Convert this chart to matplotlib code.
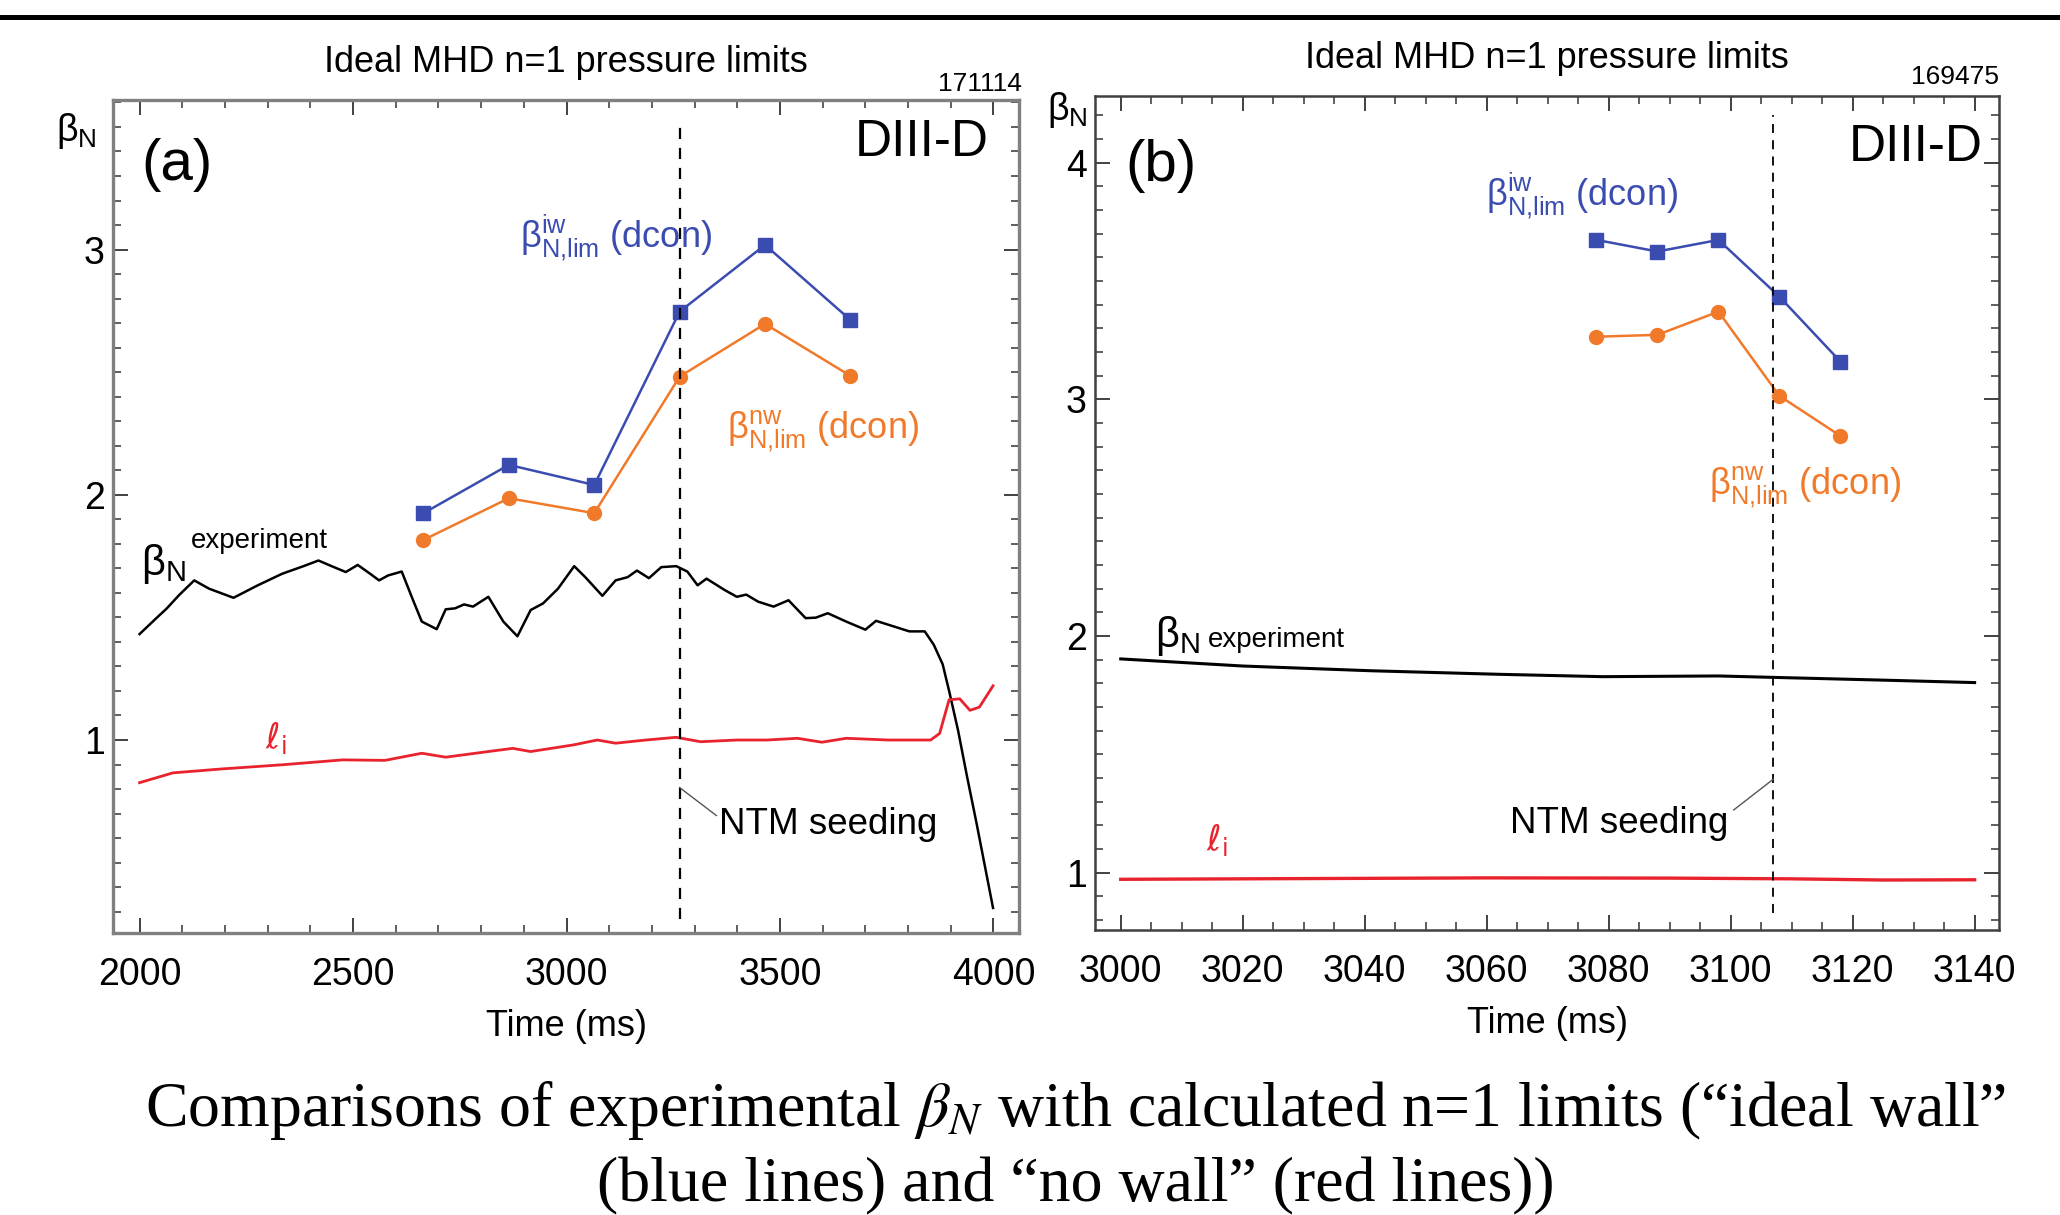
import matplotlib
matplotlib.use("Agg")
import matplotlib.pyplot as plt
from matplotlib import font_manager as fm
from matplotlib.lines import Line2D
from matplotlib.ticker import MultipleLocator

# ---------------- data ----------------
# Panel (a): shot 171114
a_lim_t = [2665, 2865, 3065, 3265, 3465, 3665]
a_iw = [1.925, 2.122, 2.040, 2.747, 3.019, 2.713]
a_nw = [1.816, 1.986, 1.925, 2.482, 2.697, 2.485]

a_exp_t = [2000, 2043, 2064, 2092, 2128, 2163, 2220, 2277, 2334, 2384, 2419, 2447,
           2483, 2511, 2540, 2561, 2582, 2614, 2639, 2661, 2696, 2717, 2739, 2760,
           2781, 2817, 2852, 2885, 2916, 2945, 2980, 3018, 3044, 3084, 3115, 3143,
           3165, 3193, 3222, 3257, 3283, 3307, 3328, 3371, 3399, 3421, 3449, 3485,
           3520, 3560, 3584, 3612, 3655, 3700, 3725, 3754, 3803, 3839, 3860, 3881,
           3896, 3917, 3938, 3960, 3981, 3999]
a_exp = [1.432, 1.503, 1.537, 1.590, 1.651, 1.617, 1.580, 1.631, 1.678, 1.709, 1.732, 1.711,
         1.685, 1.714, 1.678, 1.651, 1.671, 1.687, 1.577, 1.483, 1.452, 1.533, 1.537, 1.553,
         1.544, 1.584, 1.483, 1.423, 1.530, 1.557, 1.617, 1.709, 1.664, 1.588, 1.651, 1.664,
         1.691, 1.660, 1.705, 1.709, 1.687, 1.631, 1.658, 1.611, 1.584, 1.593, 1.564, 1.544,
         1.570, 1.497, 1.499, 1.517, 1.483, 1.450, 1.486, 1.470, 1.443, 1.443, 1.389, 1.309,
         1.201, 1.040, 0.852, 0.664, 0.476, 0.315]

a_li_t = [2000, 2078, 2192, 2334, 2476, 2575, 2661, 2717, 2817, 2874, 2916, 3016, 3072,
          3115, 3186, 3257, 3314, 3399, 3470, 3541, 3598, 3655, 3754, 3853, 3874, 3896,
          3921, 3945, 3967, 3999]
a_li = [0.826, 0.866, 0.882, 0.899, 0.919, 0.917, 0.946, 0.930, 0.953, 0.966, 0.953, 0.980,
        1.000, 0.987, 1.000, 1.011, 0.993, 1.000, 1.000, 1.007, 0.991, 1.007, 1.000, 1.000,
        1.027, 1.164, 1.168, 1.121, 1.134, 1.221]
a_ntm_t = 3265

# Panel (b): shot 169475
b_lim_t = [3078, 3088, 3098, 3108, 3118]
b_iw = [3.673, 3.624, 3.673, 3.433, 3.159]
b_nw = [3.264, 3.272, 3.370, 3.014, 2.845]

b_exp_t = [3000, 3020, 3041, 3062, 3079, 3098, 3107, 3124, 3140]
b_exp = [1.903, 1.873, 1.853, 1.838, 1.828, 1.831, 1.825, 1.814, 1.803]

b_li_t = [3000, 3030, 3060, 3090, 3110, 3125, 3140]
b_li = [0.972, 0.975, 0.978, 0.977, 0.974, 0.969, 0.970]
b_ntm_t = 3107

a_xticks = [2000, 2500, 3000, 3500, 4000]
a_yticks = [1, 2, 3]
b_xticks = [3000, 3020, 3040, 3060, 3080, 3100, 3120, 3140]
b_yticks = [1, 2, 3, 4]

# ---------------- style ----------------
names = {f.name for f in fm.fontManager.ttflist}
NARROW = 'Liberation Sans Narrow' if 'Liberation Sans Narrow' in names else 'Liberation Sans'
SANS = ['Liberation Sans', 'DejaVu Sans']
plt.rcParams['font.family'] = SANS

BLUE = '#3b4cb0'
ORANGE = '#f07a2a'
RED = '#e8232d'
FRAME = '#808080'

fig = plt.figure(figsize=(20.6, 12.15), dpi=100)

ax_a = fig.add_axes([0.0549, 0.2321, 0.4398, 0.6856])
ax_b = fig.add_axes([0.5316, 0.2346, 0.4388, 0.6864])


def style_axes(ax, xlim, ylim, xticks, yticks, xminor, frame_col, frame_lw):
    ax.set_xlim(*xlim)
    ax.set_ylim(*ylim)
    ax.set_xticks(xticks)
    ax.set_yticks(yticks)
    ax.xaxis.set_minor_locator(MultipleLocator(xminor))
    ax.yaxis.set_minor_locator(MultipleLocator(0.1))
    ax.tick_params(which='both', direction='in', top=True, right=True,
                   colors='#333333', labelcolor='black')
    ax.tick_params(which='major', length=11, width=1.3)
    ax.tick_params(which='minor', length=5.5, width=1.1)
    ax.tick_params(axis='x', which='major', pad=17)
    ax.tick_params(axis='y', which='major', pad=6)
    for lab in ax.get_xticklabels() + ax.get_yticklabels():
        lab.set_fontfamily(NARROW)
        lab.set_fontsize(27)
    for s in ax.spines.values():
        s.set_color(frame_col)
        s.set_linewidth(frame_lw)


style_axes(ax_a, (1938, 4060), (0.213, 3.61), a_xticks, a_yticks, 100, FRAME, 2.4)
style_axes(ax_b, (2995.8, 3144.0), (0.758, 4.281), b_xticks, b_yticks, 5, '#404040', 1.8)

IW_LABEL = r'$\mathregular{β^{iw}_{N{,}lim}}$ (dcon)'
NW_LABEL = r'$\mathregular{β^{nw}_{N{,}lim}}$ (dcon)'
LI_LABEL = r'$\mathregular{ℓ_i}$'

# ---------------- panel (a) ----------------
ax = ax_a
ax.plot(a_exp_t, a_exp, color='black', lw=1.8)
ax.plot(a_li_t, a_li, color=RED, lw=2.0)
ax.plot(a_lim_t, a_iw, color=BLUE, lw=1.8, marker='s', ms=10)
ax.plot(a_lim_t, a_nw, color=ORANGE, lw=1.8, marker='o', ms=10)
ax.plot([a_ntm_t, a_ntm_t], [0.27, 3.50], color='black', lw=1.6, ls=(0, (5, 4)))
ax.plot([a_ntm_t, 3351], [0.806, 0.692], color='#555555', lw=1.0)
ax.text(3357, 0.618, 'NTM seeding', fontsize=26.5, color='black', va='baseline')
ax.text(2890, 3.007, IW_LABEL, fontsize=26, color=BLUE, va='baseline')
ax.text(3377, 2.230, NW_LABEL, fontsize=26, color=ORANGE, va='baseline')
ax.text(2004, 1.671, r'$\mathregular{β_N}$', fontsize=30, color='black', va='baseline')
ax.text(2121, 1.785, 'experiment', fontsize=20, color='black', va='baseline')
ax.text(2294, 0.967, LI_LABEL, fontsize=25, color=RED, va='baseline',
        fontfamily=['DejaVu Sans'])
ax.text(0.031, 0.922, '(a)', transform=ax.transAxes, fontsize=42, va='center', ha='left')
ax.text(0.967, 0.949, 'DIII-D', transform=ax.transAxes, fontsize=37, va='center', ha='right')
ax.text(1.003, 1.005, '171114', transform=ax.transAxes, fontsize=19, va='bottom', ha='right',
        fontfamily=NARROW)
ax.set_title('Ideal MHD n=1 pressure limits', fontsize=26, fontfamily=NARROW,
             y=1.0456, va='center', pad=0)
ax.set_ylabel(r'$\mathregular{β_N}$', fontsize=27, rotation=0, ha='center', va='center')
ax.yaxis.set_label_coords(-0.041, 0.963)
ax.set_xlabel('Time (ms)', fontsize=26, fontfamily=NARROW)
ax.xaxis.set_label_coords(0.5, -0.091)

# ---------------- panel (b) ----------------
ax = ax_b
ax.plot(b_exp_t, b_exp, color='black', lw=2.2)
ax.plot(b_li_t, b_li, color=RED, lw=2.4)
ax.plot(b_lim_t, b_iw, color=BLUE, lw=1.8, marker='s', ms=10)
ax.plot(b_lim_t, b_nw, color=ORANGE, lw=1.8, marker='o', ms=10)
ax.plot([b_ntm_t, b_ntm_t], [0.83, 4.20], color='black', lw=1.3, ls=(0, (5, 4)))
ax.plot([3100.5, b_ntm_t], [1.265, 1.395], color='#555555', lw=1.0)
ax.text(3063.9, 1.166, 'NTM seeding', fontsize=26.5, color='black', va='baseline')
ax.text(3059.9, 3.817, IW_LABEL, fontsize=26, color=BLUE, va='baseline')
ax.text(3096.4, 2.596, NW_LABEL, fontsize=26, color=ORANGE, va='baseline')
ax.text(3005.7, 1.955, r'$\mathregular{β_N}$', fontsize=30, color='black', va='baseline')
ax.text(3014.3, 1.955, 'experiment', fontsize=20, color='black', va='baseline')
ax.text(3014.0, 1.096, LI_LABEL, fontsize=25, color=RED, va='baseline',
        fontfamily=['DejaVu Sans'])
ax.text(0.033, 0.9155, '(b)', transform=ax.transAxes, fontsize=42, va='center', ha='left')
ax.text(0.982, 0.938, 'DIII-D', transform=ax.transAxes, fontsize=37, va='center', ha='right')
ax.text(1.0, 1.008, '169475', transform=ax.transAxes, fontsize=19, va='bottom', ha='right',
        fontfamily=NARROW)
ax.set_title('Ideal MHD n=1 pressure limits', fontsize=26, fontfamily=NARROW,
             y=1.0444, va='center', pad=0)
ax.set_ylabel(r'$\mathregular{β_N}$', fontsize=27, rotation=0, ha='center', va='center')
ax.yaxis.set_label_coords(-0.031, 0.983)
ax.set_xlabel('Time (ms)', fontsize=26, fontfamily=NARROW)
ax.xaxis.set_label_coords(0.5, -0.091)

# ---------------- figure decorations ----------------
fig.add_artist(Line2D([0, 1], [0.9864, 0.9864], color='black', lw=3.6,
                      transform=fig.transFigure))
fig.text(0.5223, 0.0856,
         'Comparisons of experimental $\\beta_N$ with calculated n=1 limits (\u201cideal wall\u201d',
         ha='center', va='center', fontsize=46, fontfamily='Liberation Serif',
         math_fontfamily='stix')
fig.text(0.5223, 0.0239,
         '(blue lines) and \u201cno wall\u201d (red lines))',
         ha='center', va='center', fontsize=46, fontfamily='Liberation Serif')

fig.savefig('out.png', dpi=100)
